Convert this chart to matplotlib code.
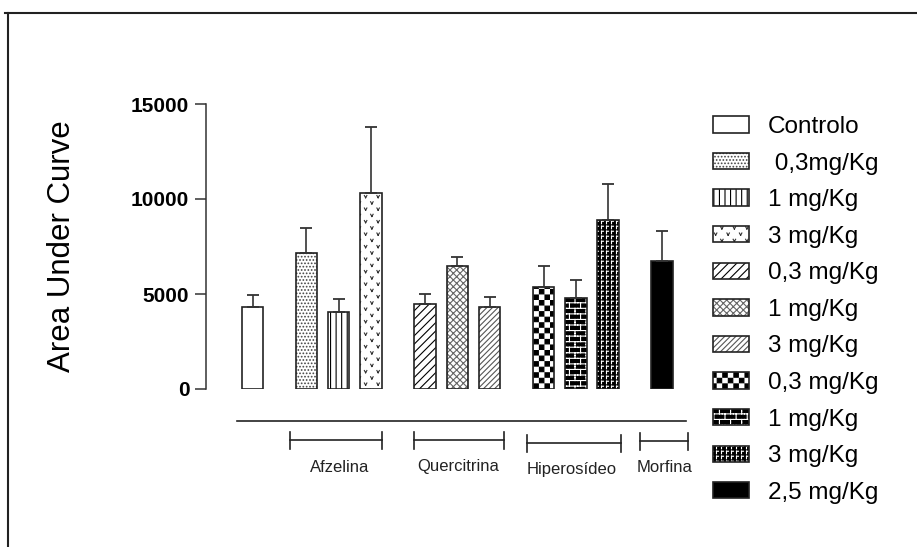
import numpy as np
import matplotlib
matplotlib.use('Agg')
import matplotlib.pyplot as plt
import matplotlib.hatch as mhatch
from matplotlib.path import Path
from matplotlib.patches import Patch
from matplotlib.lines import Line2D

# ---------------- data ----------------
groups = ['Afzelina', 'Quercitrina', 'Hiperosídeo', 'Morfina']
labels = ['Controlo', ' 0,3mg/Kg', '1 mg/Kg', '3 mg/Kg', '0,3 mg/Kg', '1 mg/Kg',
          '3 mg/Kg', '0,3 mg/Kg', '1 mg/Kg', '3 mg/Kg', '2,5 mg/Kg']
means = [4300, 7150, 4070, 10300, 4470, 6490, 4300, 5390, 4810, 8900, 6740]
sems = [660, 1350, 650, 3500, 510, 480, 560, 1080, 910, 1890, 1560]
group_sizes = [1, 3, 3, 3, 1]
yticks = [0, 5000, 10000, 15000]
ylabel = 'Area Under Curve'

# ---------------- custom hatch patterns ----------------
plt.rcParams['hatch.linewidth'] = 0.8
plt.rcParams['font.family'] = ['Liberation Sans', 'DejaVu Sans']


class TileHatch(mhatch.HatchPatternBase):
    char = '?'
    reps = 1
    shapes = []

    def __init__(self, hatch, density):
        n = hatch.count(self.char) * self.reps
        vs, cs = [], []
        for i in range(n):
            for j in range(n):
                for pts, closed in self.shapes:
                    p = (np.asarray(pts, float) + [i, j]) / n
                    if closed:
                        p = np.vstack([p, p[:1]])
                        c = [Path.MOVETO] + [Path.LINETO] * (len(p) - 2) + [Path.CLOSEPOLY]
                    else:
                        c = [Path.MOVETO] + [Path.LINETO] * (len(p) - 1)
                    vs.append(p)
                    cs.extend(c)
        self._v = np.vstack(vs) if vs else np.empty((0, 2))
        self._c = np.array(cs, dtype=Path.code_type)
        self.num_vertices = len(self._v)

    def set_vertices_and_codes(self, vertices, codes):
        vertices[:] = self._v
        codes[:] = self._c


def _v(cx, cy, w=0.1, h=0.09):
    return [([(cx - w, cy + h), (cx, cy - h)], False),
            ([(cx, cy - h), (cx + w, cy + h)], False)]


class VHatch(TileHatch):
    char = 'o'
    reps = 8
    shapes = _v(0.25, 0.27) + _v(0.75, 0.77)


class CheckerHatch(TileHatch):
    char = 'O'
    reps = 9
    m = 0.05
    shapes = [([(m, m), (0.5 - m, m), (0.5 - m, 0.5 - m), (m, 0.5 - m)], True),
              ([(0.5 + m, 0.5 + m), (1 - m, 0.5 + m), (1 - m, 1 - m), (0.5 + m, 1 - m)], True)]


class BrickHatch(TileHatch):
    char = '*'
    reps = 9
    shapes = [([(0, 0.25), (1, 0.25)], False),
              ([(0, 0.75), (1, 0.75)], False),
              ([(0.25, 0.25), (0.25, 0.75)], False),
              ([(0.75, 0.75), (0.75, 1.0)], False),
              ([(0.75, 0.0), (0.75, 0.25)], False)]


class FleckHatch(TileHatch):
    char = '-'
    reps = 20
    shapes = [([(0.3, 0.25), (0.3, 0.75)], False),
              ([(0.3, 0.75), (0.7, 0.75)], False)]


mhatch._hatch_types[:] = [FleckHatch, mhatch.VerticalHatch, mhatch.NorthEastHatch,
                          mhatch.SouthEastHatch, VHatch, CheckerHatch,
                          mhatch.SmallFilledCircles, BrickHatch]

# ---------------- styles ----------------
faces = ['white', 'white', 'white', 'white', 'white', 'white', 'white',
         'white', 'black', 'black', 'black']
hatch_cols = ['black', '#444444', 'black', '#333333', 'black', '#666666', '#555555',
              'black', 'white', 'white', 'black']
hatches = ['', '.....', '|||', 'o', '////', 'xxxxx', '//////', 'O', '*', '-', '']
outline = '#222222'

# ---------------- figure ----------------
W, H = 917, 547
fig = plt.figure(figsize=(W / 100, H / 100), dpi=100)
ax_left, ax_right, ax_top, ax_bot = 206, 690, 104, 389
ax = fig.add_axes([ax_left / W, 1 - ax_bot / H, (ax_right - ax_left) / W,
                   (ax_bot - ax_top) / H])

# bar positions: step 1 within groups, larger step between groups
gap = 1.67
pos = []
x = 0.0
for gi, n in enumerate(group_sizes):
    if gi > 0:
        x += gap - 1
    for k in range(n):
        pos.append(x)
        x += 1
pos = np.array(pos)
bw = 0.665

for i in range(len(means)):
    ax.bar(pos[i], means[i], bw, color=faces[i], edgecolor=hatch_cols[i],
           hatch=hatches[i] or None, linewidth=0, zorder=2)
    ax.bar(pos[i], means[i], bw, fill=False, edgecolor=outline, linewidth=1.2, zorder=3)

ax.errorbar(pos, means, yerr=[np.zeros(len(sems)), sems], fmt='none',
            ecolor='#333333', elinewidth=1.2, capsize=4, capthick=1.3, zorder=4)

ax.set_yticks(yticks)
ax.set_yticklabels([str(t) for t in yticks], fontsize=15, fontweight='bold')
ax.set_xticks([])
for s in ['top', 'right', 'bottom']:
    ax.spines[s].set_visible(False)
ax.spines['left'].set_bounds(0, 15000)
ax.spines['left'].set_linewidth(1.1)
ax.spines['left'].set_color('#333333')
ax.tick_params(axis='y', length=8, width=1.1, color='#333333', pad=4)

ax.set_ylabel(ylabel, fontsize=22.5)
ax.yaxis.set_label_coords((77 - ax_left) / (ax_right - ax_left), 0.5)

# ---------------- group annotation below axis ----------------
px2v = 15000 / (ax_bot - ax_top)
ax.plot([pos[0] - 0.48, pos[-1] + 0.74], [-(421 - ax_bot) * px2v] * 2,
        color='#222222', lw=1.2, clip_on=False)
starts = np.cumsum([0] + group_sizes[:-1])[1:]
ends = starts + np.array(group_sizes[1:]) - 1
br_lo = [-0.51, -0.35, -0.52, -0.67]
br_hi = [0.34, 0.44, 0.41, 0.81]
br_y = [440, 440, 443, 441]
lab_x = [340, 458, 572, 665]
lab_y = [468, 467, 470, 467]
for g in range(len(groups)):
    x0 = pos[starts[g]] + br_lo[g]
    x1 = pos[ends[g]] + br_hi[g]
    yb = -(br_y[g] - ax_bot) * px2v
    th = 8.5 * px2v
    ax.plot([x0, x1], [yb, yb], color='#222222', lw=1.2, clip_on=False)
    ax.plot([x0, x0], [yb - th, yb + th], color='#222222', lw=1.2, clip_on=False)
    ax.plot([x1, x1], [yb - th, yb + th], color='#222222', lw=1.2, clip_on=False)
    xt = pos[0] + (lab_x[g] - 252.5) / 32.3
    ax.text(xt, -(lab_y[g] - ax_bot) * px2v, groups[g], fontsize=12,
            ha='center', va='center', color='#222222', clip_on=False)

ax.set_ylim(0, 15000)
ax.set_xlim(pos[0] - 1.44, pos[0] + (ax_right - 252.5) / 32.3)

# ---------------- legend ----------------
handles = []
for i in range(len(means)):
    p1 = Patch(facecolor=faces[i], edgecolor=hatch_cols[i], hatch=hatches[i] or None,
               linewidth=0)
    p2 = Patch(fill=False, edgecolor=outline, linewidth=1.2)
    handles.append((p1, p2))
fs = 17.5
fig.legend(handles, labels, loc='upper left', bbox_to_anchor=(713 / W, 1 - 116 / H),
           frameon=False, fontsize=fs, handlelength=36 / (fs * 1.389),
           handleheight=16 / (fs * 1.389), handletextpad=0.78, labelspacing=0.6,
           borderpad=0, borderaxespad=0)

# ---------------- outer frame ----------------
fig.add_artist(Line2D([8 / W, 8 / W], [0, 1 - 13 / H], transform=fig.transFigure,
                      color='#222222', lw=1.5))
fig.add_artist(Line2D([5 / W, 1], [1 - 13 / H, 1 - 13 / H], transform=fig.transFigure,
                      color='#222222', lw=1.5))

fig.savefig('out.png', dpi=100)
